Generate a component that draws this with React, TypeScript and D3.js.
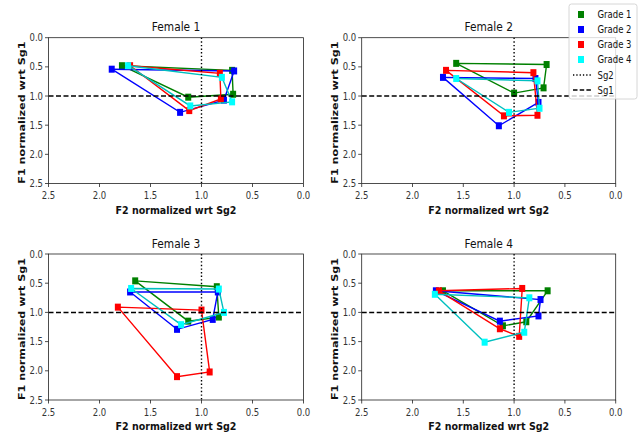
import React from "react";
import * as d3 from "d3";

const panelTitles = ["Female 1", "Female 2", "Female 3", "Female 4"];
const gradeNames = ["Grade 1", "Grade 2", "Grade 3", "Grade 4"];
const lineColors = ["#008000", "#0000ff", "#ff0000", "#00bfbf"];
const markerColors = ["#008000", "#0000ff", "#ff0000", "#00ffff"];
const xTicks = [2.5, 2.0, 1.5, 1.0, 0.5, 0.0];
const yTicks = [0.0, 0.5, 1.0, 1.5, 2.0, 2.5];

// F2 (x) and F1 (y) per panel, per grade (4 vowels each)
const f2Female1 = [
  [1.78, 0.70, 0.69, 1.13],
  [1.88, 0.68, 0.78, 1.21],
  [1.70, 0.82, 0.81, 1.12],
  [1.72, 0.80, 0.70, 1.11],
];
const f1Female1 = [
  [0.48, 0.56, 0.97, 1.02],
  [0.54, 0.57, 1.07, 1.28],
  [0.48, 0.61, 1.05, 1.25],
  [0.48, 0.68, 1.10, 1.17],
];
const f2Female2 = [
  [1.57, 0.68, 0.71, 1.00],
  [1.70, 0.79, 0.76, 1.15],
  [1.67, 0.81, 0.77, 1.10],
  [1.57, 0.77, 0.75, 1.05],
];
const f1Female2 = [
  [0.44, 0.46, 0.86, 0.95],
  [0.68, 0.70, 1.11, 1.51],
  [0.56, 0.60, 1.33, 1.34],
  [0.70, 0.74, 1.21, 1.28],
];
const f2Female3 = [
  [1.65, 0.85, 0.83, 1.13],
  [1.70, 0.84, 0.89, 1.24],
  [1.82, 1.00, 0.92, 1.24],
  [1.69, 0.83, 0.78, 1.20],
];
const f1Female3 = [
  [0.46, 0.56, 1.08, 1.15],
  [0.65, 0.65, 1.12, 1.29],
  [0.91, 0.96, 2.02, 2.10],
  [0.59, 0.60, 1.00, 1.21],
];
const f2Female4 = [
  [1.70, 0.67, 0.88, 1.11],
  [1.77, 0.74, 0.76, 1.14],
  [1.74, 0.92, 0.95, 1.14],
  [1.78, 0.85, 0.90, 1.29],
];
const f1Female4 = [
  [0.63, 0.63, 1.16, 1.23],
  [0.63, 0.78, 1.06, 1.15],
  [0.63, 0.59, 1.41, 1.28],
  [0.69, 0.75, 1.34, 1.51],
];

const f2All = [f2Female1, f2Female2, f2Female3, f2Female4];
const f1All = [f1Female1, f1Female2, f1Female3, f1Female4];

const FONT = "DejaVu Sans";
const SX = 0.85;
const colX = [
  [48.5, 303.5],
  [361.7, 615.7],
];
const rowY = [
  [37.7, 183.5],
  [254, 400],
];

function T({ x, y, anchor = "start", size = 10, weight = "normal", rotate = 0, children, fill = "#111" }: any) {
  const tr = rotate
    ? `translate(${x},${y}) rotate(${rotate}) scale(1,${SX})`
    : `translate(${x},${y}) scale(${SX},1)`;
  return (
    <text transform={tr} textAnchor={anchor} fontSize={size} fontWeight={weight} fontFamily={FONT} fill={fill}>
      {children}
    </text>
  );
}

function Panel({ idx }: { idx: number }) {
  const c = idx % 2;
  const r = Math.floor(idx / 2);
  const [x0, x1] = colX[c];
  const [y0, y1] = rowY[r];
  const x = d3.scaleLinear().domain([2.5, 0]).range([x0, x1]);
  const y = d3.scaleLinear().domain([0, 2.5]).range([y0, y1]);
  const line = d3
    .line<[number, number]>()
    .x((d) => x(d[0]))
    .y((d) => y(d[1]));
  const f2 = f2All[idx];
  const f1 = f1All[idx];
  return (
    <g>
      <rect x={x0} y={y0} width={x1 - x0} height={y1 - y0} fill="white" />
      {gradeNames.map((g, gi) => {
        const pts: [number, number][] = f2[gi].map((v, k) => [v, f1[gi][k]]);
        const closed = [...pts, pts[0]];
        return (
          <g key={g}>
            <path d={line(closed) || ""} fill="none" stroke={lineColors[gi]} strokeWidth={1.4} />
            {pts.map((p, k) => (
              <rect
                key={k}
                x={x(p[0]) - 3}
                y={y(p[1]) - 3.5}
                width={6}
                height={7}
                fill={markerColors[gi]}
              />
            ))}
          </g>
        );
      })}
      <line x1={x(1)} x2={x(1)} y1={y0} y2={y1} stroke="black" strokeWidth={1.4} strokeDasharray="1.4,2.2" />
      <line x1={x0} x2={x1} y1={y(1)} y2={y(1)} stroke="black" strokeWidth={1.5} strokeDasharray="5,2.5" />
      <rect x={x0} y={y0} width={x1 - x0} height={y1 - y0} fill="none" stroke="#222" strokeWidth={0.8} />
      {xTicks.map((t) => (
        <g key={"x" + t}>
          <line x1={x(t)} x2={x(t)} y1={y1} y2={y1 + 3.5} stroke="#222" strokeWidth={0.8} />
          <T x={x(t)} y={y1 + 15.5} anchor="middle" size={10} fill="#333">
            {t.toFixed(1)}
          </T>
        </g>
      ))}
      {yTicks.map((t) => (
        <g key={"y" + t}>
          <line x1={x0} x2={x0 - 3.5} y1={y(t)} y2={y(t)} stroke="#222" strokeWidth={0.8} />
          <T x={x0 - 5.5} y={y(t) + 3.6} anchor="end" size={10} fill="#333">
            {t.toFixed(1)}
          </T>
        </g>
      ))}
      <T x={(x0 + x1) / 2} y={y0 - 6.5} anchor="middle" size={12.5} fill="#111">
        {panelTitles[idx]}
      </T>
      <T x={(x0 + x1) / 2} y={y1 + 30} anchor="middle" size={11.2} weight="bold">
        F2 normalized wrt Sg2
      </T>
      <T x={x0 - 24} y={(y0 + y1) / 2 + 2} anchor="middle" size={11.2} weight="bold" rotate={-90}>
        F1 normalized wrt Sg1
      </T>
    </g>
  );
}

function Legend() {
  const lx = 569;
  const ly = 4;
  const rows = [14.5, 29.5, 44.5, 59.5, 75, 90];
  return (
    <g>
      <rect x={lx} y={ly} width={68} height={95} rx={2.5} fill="white" fillOpacity={0.8} stroke="#cccccc" strokeWidth={0.8} />
      {gradeNames.map((g, i) => (
        <g key={g}>
          <rect x={578} y={rows[i] - 3.5} width={6} height={7} fill={markerColors[i]} />
          <T x={597.5} y={rows[i] + 3.6} size={10}>
            {g}
          </T>
        </g>
      ))}
      <line x1={573} x2={591} y1={rows[4]} y2={rows[4]} stroke="black" strokeWidth={1.3} strokeDasharray="1.3,2" />
      <T x={597.5} y={rows[4] + 3.6} size={10}>
        Sg2
      </T>
      <line x1={573} x2={591} y1={rows[5]} y2={rows[5]} stroke="black" strokeWidth={1.4} strokeDasharray="4.5,2.2" />
      <T x={597.5} y={rows[5] + 3.6} size={10}>
        Sg1
      </T>
    </g>
  );
}

export default function App() {
  return (
    <svg width={644} height={438} style={{ position: "absolute", left: 0, top: 0, background: "white" }}>
      <rect width={644} height={438} fill="white" />
      {panelTitles.map((_, i) => (
        <Panel key={i} idx={i} />
      ))}
      <Legend />
    </svg>
  );
}
